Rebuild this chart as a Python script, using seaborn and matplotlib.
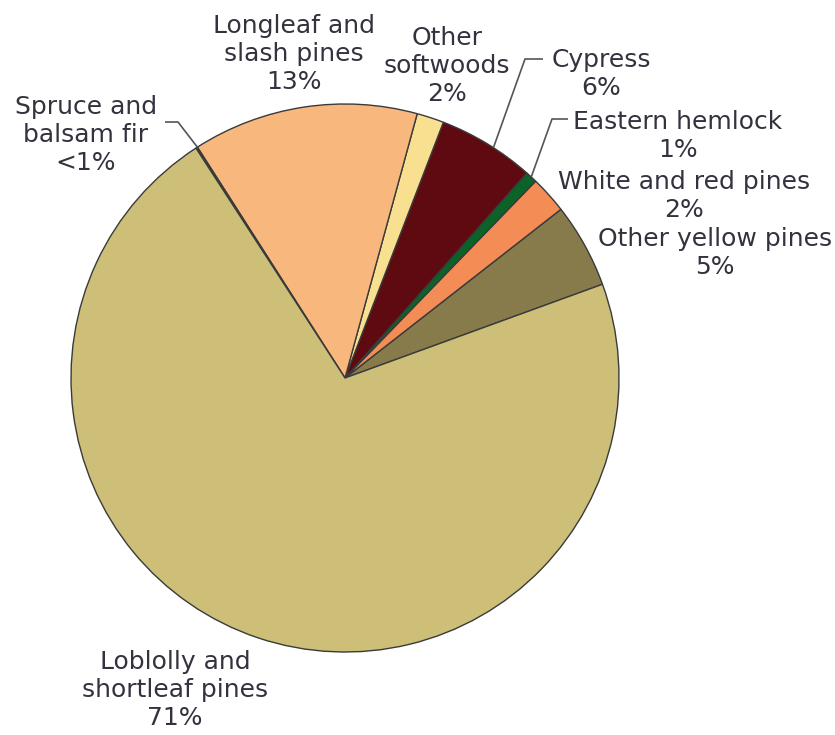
import numpy as np
import matplotlib
matplotlib.use("Agg")
import matplotlib.pyplot as plt
import seaborn as sns

# ---- data ----
categories = ["Other yellow pines", "White and red pines", "Eastern hemlock", "Cypress",
              "Other softwoods", "Longleaf and slash pines", "Spruce and balsam fir",
              "Loblolly and shortleaf pines"]
values = [5.0, 2.2, 0.7, 5.7, 1.6, 13.3, 0.1, 71.4]
pct_labels = ["5%", "2%", "1%", "6%", "2%", "13%", "<1%", "71%"]
label_text = ["Other yellow pines", "White and red pines", "Eastern hemlock", "Cypress",
              "Other\nsoftwoods", "Longleaf and\nslash pines", "Spruce and\nbalsam fir",
              "Loblolly and\nshortleaf pines"]
colors = ["#877A4B", "#F38C55", "#0A6428", "#5E0A10", "#F9E091", "#F7B77D", "#3a3a3a", "#CDBE78"]

sns.set_theme(style="white")
plt.rcParams['font.family'] = ['Liberation Sans Narrow', 'DejaVu Sans']

W, H = 835, 735
fig = plt.figure(figsize=(W / 100, H / 100), dpi=100)
ax = fig.add_axes([0, 0, 1, 1])

cx, cy, R = 345, H - 378, 274
wedges, _ = ax.pie(values, colors=colors, startangle=20, counterclock=True,
                   center=(cx, cy), radius=R, frame=True,
                   wedgeprops=dict(edgecolor="#3a3a3a", linewidth=1.0))
ax.set_xlim(0, W)
ax.set_ylim(0, H)
ax.set_aspect("equal")
ax.axis("off")

txt_color = "#33333f"
fs = 18
# label positions (pixel, top-origin)
label_pos = {
    "Other yellow pines": (715, 253),
    "White and red pines": (684, 196),
    "Eastern hemlock": (678, 136),
    "Cypress": (601, 74),
    "Other softwoods": (447, 66),
    "Longleaf and slash pines": (294, 54),
    "Spruce and balsam fir": (86, 135),
    "Loblolly and shortleaf pines": (175, 690),
}
for cat, lab, pct in zip(categories, label_text, pct_labels):
    x, y = label_pos[cat]
    ax.text(x, H - y, lab + "\n" + pct, ha="center", va="center", fontsize=fs,
            color=txt_color, linespacing=1.22)

# leader lines: from label elbow to wedge edge on the arc
leaders = {
    "Cypress": [(543, 59), (525, 59)],
    "Eastern hemlock": [(568, 119), (552, 119)],
    "Spruce and balsam fir": [(165, 122), (178, 122)],
}
for cat, pts in leaders.items():
    w = wedges[categories.index(cat)]
    if cat == "Spruce and balsam fir":
        ang = np.deg2rad(w.theta1)
    elif cat == "Cypress":
        ang = np.deg2rad(0.5 * (w.theta1 + w.theta2) - 1.5)
    else:
        ang = np.deg2rad(0.5 * (w.theta1 + w.theta2))
    ex, ey = cx + R * np.cos(ang), cy + R * np.sin(ang)
    xs = [p[0] for p in pts] + [ex]
    ys = [H - p[1] for p in pts] + [ey]
    ax.plot(xs, ys, color="#555555", linewidth=1.2, solid_capstyle="butt")

fig.savefig("out.png", dpi=100, facecolor="white")
